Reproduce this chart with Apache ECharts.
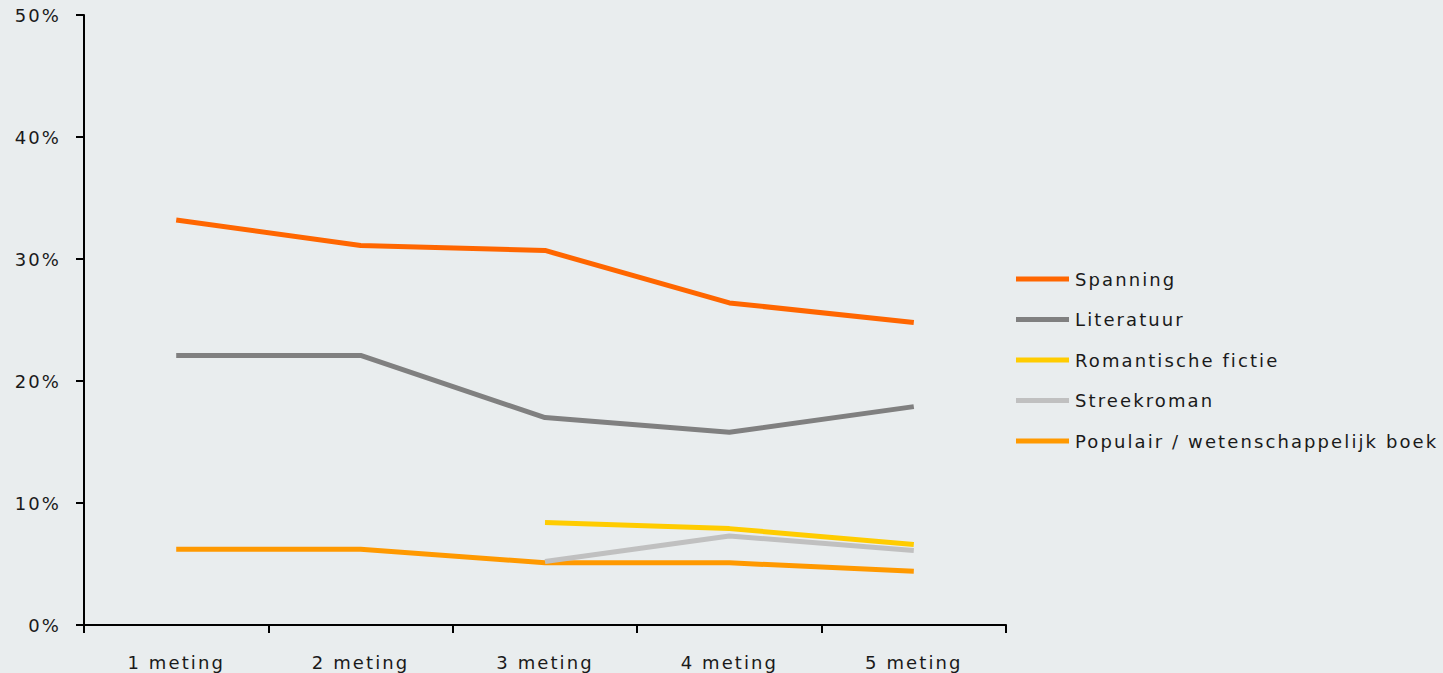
<!DOCTYPE html>
<html>
<head>
<meta charset="utf-8">
<script src="https://cdn.jsdelivr.net/npm/echarts@6/dist/echarts.min.js"></script>
<style>
  html, body { margin: 0; padding: 0; background: #e9edee; }
  #chart { width: 1443px; height: 673px; }
  #chart text { letter-spacing: 2.1px; }
</style>
</head>
<body>
<div id="chart"></div>
<script>
const categories = ['1 meting', '2 meting', '3 meting', '4 meting', '5 meting'];
const seriesNames = ['Spanning', 'Literatuur', 'Romantische fictie', 'Streekroman', 'Populair / wetenschappelijk boek'];
const spanning = [33.2, 31.1, 30.7, 26.4, 24.8];
const literatuur = [22.1, 22.1, 17.0, 15.8, 17.9];
const romantische = [null, null, 8.4, 7.9, 6.6];
const streekroman = [null, null, 5.2, 7.3, 6.1];
const populair = [6.2, 6.2, 5.1, 5.1, 4.4];
const yTicks = [0, 10, 20, 30, 40, 50];
const colors = ['#ff6600', '#808080', '#ffcc00', '#c0c0c0', '#ff9900'];

const dataList = [spanning, literatuur, romantische, streekroman, populair];
const font = 'DejaVu Sans, Verdana, sans-serif';

const chart = echarts.init(document.getElementById('chart'), null, { renderer: 'svg' });
chart.setOption({
  backgroundColor: '#e9edee',
  animation: false,
  color: colors,
  grid: { left: 84, right: 437, top: 15, bottom: 48, containLabel: false },
  legend: {
    orient: 'vertical',
    left: 1011,
    top: 265,
    icon: 'rect',
    itemWidth: 53,
    itemHeight: 5,
    itemGap: 22.5,
    textStyle: { fontFamily: font, fontSize: 18, color: '#1a1a1a', padding: [0, 0, 0, 1] },
    data: seriesNames
  },
  xAxis: {
    type: 'category',
    data: categories,
    boundaryGap: true,
    axisLine: { lineStyle: { color: '#000', width: 2 } },
    axisTick: { show: true, length: 8, lineStyle: { color: '#000', width: 2 } },
    axisLabel: { fontFamily: font, fontSize: 18, color: '#1a1a1a', margin: 28 },
    splitLine: { show: false }
  },
  yAxis: {
    type: 'value',
    min: 0, max: 50, interval: 10,
    axisLine: { show: true, lineStyle: { color: '#000', width: 2 } },
    axisTick: { show: true, length: 8, lineStyle: { color: '#000', width: 2 } },
    axisLabel: { fontFamily: font, fontSize: 18, color: '#1a1a1a', margin: 23,
      formatter: v => yTicks.includes(v) ? v + '%' : '' },
    splitLine: { show: false }
  },
  series: seriesNames.map((n, i) => ({
    name: n,
    type: 'line',
    data: dataList[i],
    showSymbol: false,
    symbol: 'none',
    lineStyle: { width: 5, color: colors[i] },
    itemStyle: { color: colors[i] },
    z: 10 - i
  }))
});
</script>
</body>
</html>
